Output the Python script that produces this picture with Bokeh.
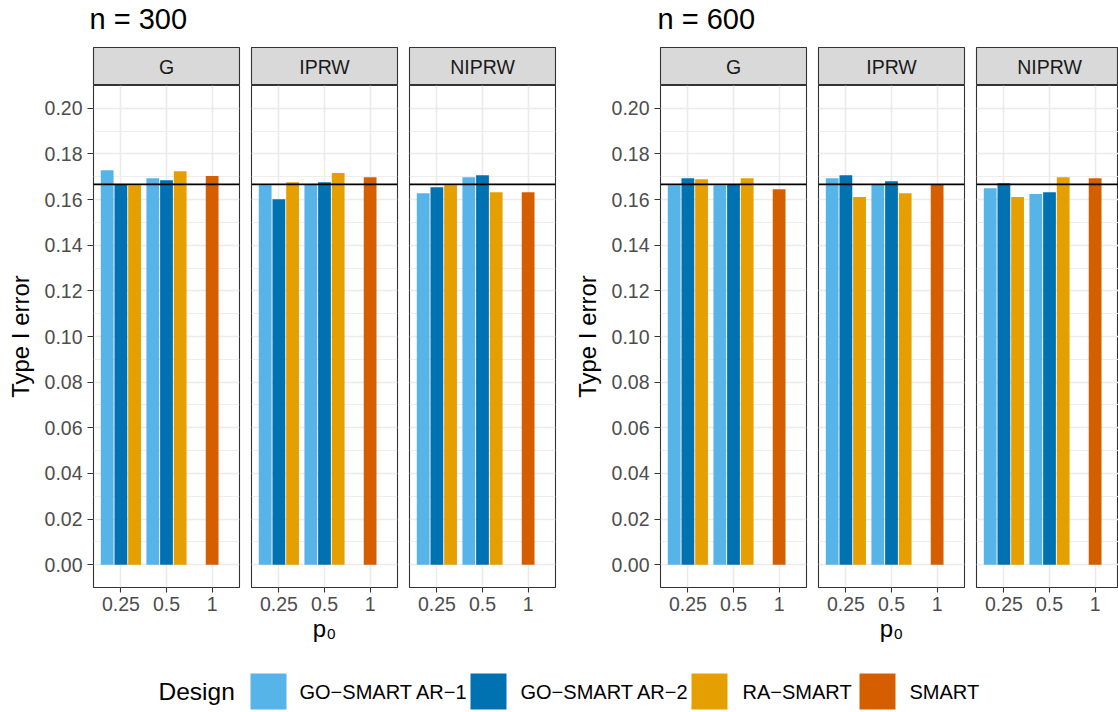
from bokeh.plotting import figure
from bokeh.models import Range1d, FixedTicker, LinearAxis, Grid, Span, PrintfTickFormatter
from bokeh.layouts import row, column
from bokeh.embed import file_html
from bokeh.resources import INLINE
from bokeh.core.properties import value

FONT = "Liberation Sans"

# ---------------- data ----------------
methods = ["G", "IPRW", "NIPRW"]
p0_labels = ["0.25", "0.5", "1"]
designs = ["GO−SMART AR−1", "GO−SMART AR−2", "RA−SMART", "SMART"]
colors = ["#56B4E9", "#0072B2", "#E69F00", "#D55E00"]
sample_titles = ["n = 300", "n = 600"]
y_ticks = [0.00, 0.02, 0.04, 0.06, 0.08, 0.10, 0.12, 0.14, 0.16, 0.18, 0.20]
ref_level = 1 / 6

# rows: G, IPRW, NIPRW ; pairs: p0 = 0.25, 0.5
ar1_n300 = [[0.1729, 0.1694], [0.1663, 0.1665], [0.1628, 0.1698]]
ar2_n300 = [[0.1666, 0.1685], [0.1602, 0.1676], [0.1654, 0.1707]]
ra_n300 = [[0.1663, 0.1724], [0.1676, 0.1716], [0.1663, 0.1632]]
smart_n300 = [0.1703, 0.1698, 0.1632]  # p0 = 1

ar1_n600 = [[0.1663, 0.1663], [0.1694, 0.1667], [0.1650, 0.1624]]
ar2_n600 = [[0.1694, 0.1665], [0.1707, 0.1680], [0.1672, 0.1632]]
ra_n600 = [[0.1689, 0.1694], [0.1611, 0.1628], [0.1611, 0.1698]]
smart_n600 = [0.1645, 0.1665, 0.1694]  # p0 = 1

# ---------------- layout constants ----------------
FRAME_W = 146
FRAME_H = 502
BOTTOM = 62
TITLE_H = 46
PX_PER_UNIT = FRAME_W / 3.2
TICK_FS = "19.5px"
AXIS_FS = "24px"
minor_ticks = [round(t + 0.01, 3) for t in y_ticks[:-1]]
y_ticker = FixedTicker(ticks=y_ticks, minor_ticks=minor_ticks)


def base_fig(width, height, **kw):
    p = figure(width=width, height=height, output_backend="svg", toolbar_location=None,
               title=None, **kw)
    return p


def no_grid(p):
    for g in p.xgrid + p.ygrid:
        g.visible = False


def title_fig(text, width, x):
    p = base_fig(width, TITLE_H, x_range=Range1d(0, width), y_range=Range1d(0, TITLE_H),
                 x_axis_location=None, y_axis_location=None, min_border=0,
                 outline_line_color=None)
    no_grid(p)
    p.text(x=[x], y=[TITLE_H - 18], text=[text], text_font=value(FONT),
           text_font_size=value("29px"), text_baseline="alphabetic", text_align="left",
           text_color="black")
    return p


def strip_fig(label, left, fw, right):
    p = base_fig(left + fw + right, 39, x_range=Range1d(0, fw / FRAME_W), y_range=Range1d(0, 1),
                 x_axis_location=None, y_axis_location=None,
                 min_border_left=left, min_border_right=right, min_border_top=1,
                 min_border_bottom=0)
    no_grid(p)
    p.background_fill_color = "#D9D9D9"
    p.outline_line_color = "#333333"
    p.outline_line_width = 1.1
    p.text(x=[0.5], y=[0.5], text=[label], text_font=value(FONT),
           text_font_size=value(TICK_FS), text_align="center", text_baseline="middle",
           text_color="#1A1A1A")
    return p


def panel_fig(m, ar1, ar2, ra, smart, left, fw, right, with_y, xlabel):
    xmax = 0.4 + fw / PX_PER_UNIT
    p = base_fig(left + fw + right, FRAME_H + BOTTOM,
                 x_range=Range1d(0.4, xmax), y_range=Range1d(-0.01, 0.21),
                 x_axis_location="below", y_axis_location=None,
                 min_border_left=left, min_border_right=right, min_border_top=0,
                 min_border_bottom=BOTTOM)
    p.outline_line_color = "#333333"
    p.outline_line_width = 1.1
    p.background_fill_color = "white"
    for g in p.ygrid:
        g.visible = False

    # grids
    p.xgrid.grid_line_color = "#EBEBEB"
    p.xgrid.grid_line_width = 1.6
    p.add_layout(Grid(dimension=1, ticker=y_ticker, grid_line_color="#EBEBEB",
                      grid_line_width=1.6, minor_grid_line_color="#EBEBEB",
                      minor_grid_line_width=0.9))

    # bars
    xs, tops, cols = [], [], []
    offsets = [-0.3, 0.0, 0.3]
    for k, series in enumerate([ar1[m], ar2[m], ra[m]]):
        for j, v in enumerate(series):
            xs.append(j + 1 + offsets[k])
            tops.append(v)
            cols.append(colors[k])
    xs.append(3)
    tops.append(smart[m])
    cols.append(colors[3])
    p.vbar(x=xs, top=tops, bottom=0, width=0.28, fill_color=cols, line_color=None)

    p.add_layout(Span(location=ref_level, dimension="width", line_color="black",
                      line_width=1.8))

    ax = p.xaxis[0]
    ax.ticker = FixedTicker(ticks=[1, 2, 3], minor_ticks=[])
    ax.major_label_overrides = {i + 1: lab for i, lab in enumerate(p0_labels)}
    ax.axis_line_color = None
    ax.major_tick_line_color = "#333333"
    ax.major_tick_line_width = 1.1
    ax.major_tick_out = 5
    ax.major_tick_in = 0
    ax.minor_tick_line_color = None
    ax.major_label_text_font = FONT
    ax.major_label_text_font_size = TICK_FS
    ax.major_label_text_color = "#4D4D4D"
    ax.major_label_standoff = 4
    if xlabel:
        ax.axis_label = "p₀"
        ax.axis_label_text_font = FONT
        ax.axis_label_text_font_size = AXIS_FS
        ax.axis_label_text_font_style = "normal"
        ax.axis_label_text_color = "black"
        ax.axis_label_standoff = 1

    if with_y:
        ya = LinearAxis(ticker=y_ticker, formatter=PrintfTickFormatter(format="%.2f"))
        ya.axis_line_color = None
        ya.major_tick_line_color = "#333333"
        ya.major_tick_line_width = 1.1
        ya.major_tick_out = 6
        ya.major_tick_in = 0
        ya.minor_tick_line_color = None
        ya.major_label_text_font = FONT
        ya.major_label_text_font_size = TICK_FS
        ya.major_label_text_color = "#4D4D4D"
        ya.major_label_standoff = 5
        ya.axis_label = "Type I error"
        ya.axis_label_text_font = FONT
        ya.axis_label_text_font_size = AXIS_FS
        ya.axis_label_text_font_style = "normal"
        ya.axis_label_text_color = "black"
        ya.axis_label_standoff = 8
        p.add_layout(ya, "left")
    return p


def block(title, title_x, first_left, last_fw, last_right, ar1, ar2, ra, smart):
    lefts = [first_left, 10, 10]
    fws = [FRAME_W, FRAME_W, last_fw]
    rights = [2, 2, last_right]
    width = sum(lefts) + sum(fws) + sum(rights)
    strips = [strip_fig(methods[m], lefts[m], fws[m], rights[m]) for m in range(3)]
    panels = [panel_fig(m, ar1, ar2, ra, smart, lefts[m], fws[m], rights[m], m == 0, m == 1)
              for m in range(3)]
    return column(title_fig(title, width, title_x), row(*strips), row(*panels))


left_block = block(sample_titles[0], 89, 93, FRAME_W, 2, ar1_n300, ar2_n300, ra_n300, smart_n300)
right_block = block(sample_titles[1], 100, 103, 142, 0, ar1_n600, ar2_n600, ra_n600, smart_n600)

# ---------------- legend ----------------
LEG_W, LEG_H = 1118, 63
leg = base_fig(LEG_W, LEG_H, x_range=Range1d(0, LEG_W), y_range=Range1d(0, LEG_H),
               x_axis_location=None, y_axis_location=None, min_border=0,
               outline_line_color=None)
no_grid(leg)
box_left = [250, 470, 691, 859]
text_left = [299, 520, 742, 909]
leg.quad(left=box_left, right=[b + 36 for b in box_left], bottom=[3] * 4, top=[39] * 4,
         fill_color=colors, line_color=None)
leg.text(x=text_left, y=[21] * 4, text=designs, text_font=value(FONT),
         text_font_size=value("20px"), text_baseline="middle", text_align="left",
         text_color="black")
leg.text(x=[158], y=[21], text=["Design"], text_font=value(FONT),
         text_font_size=value("24.5px"), text_baseline="middle", text_align="left",
         text_color="black")

root = column(row(left_block, right_block), leg)

open("out.html", "w").write(file_html(root, INLINE))
